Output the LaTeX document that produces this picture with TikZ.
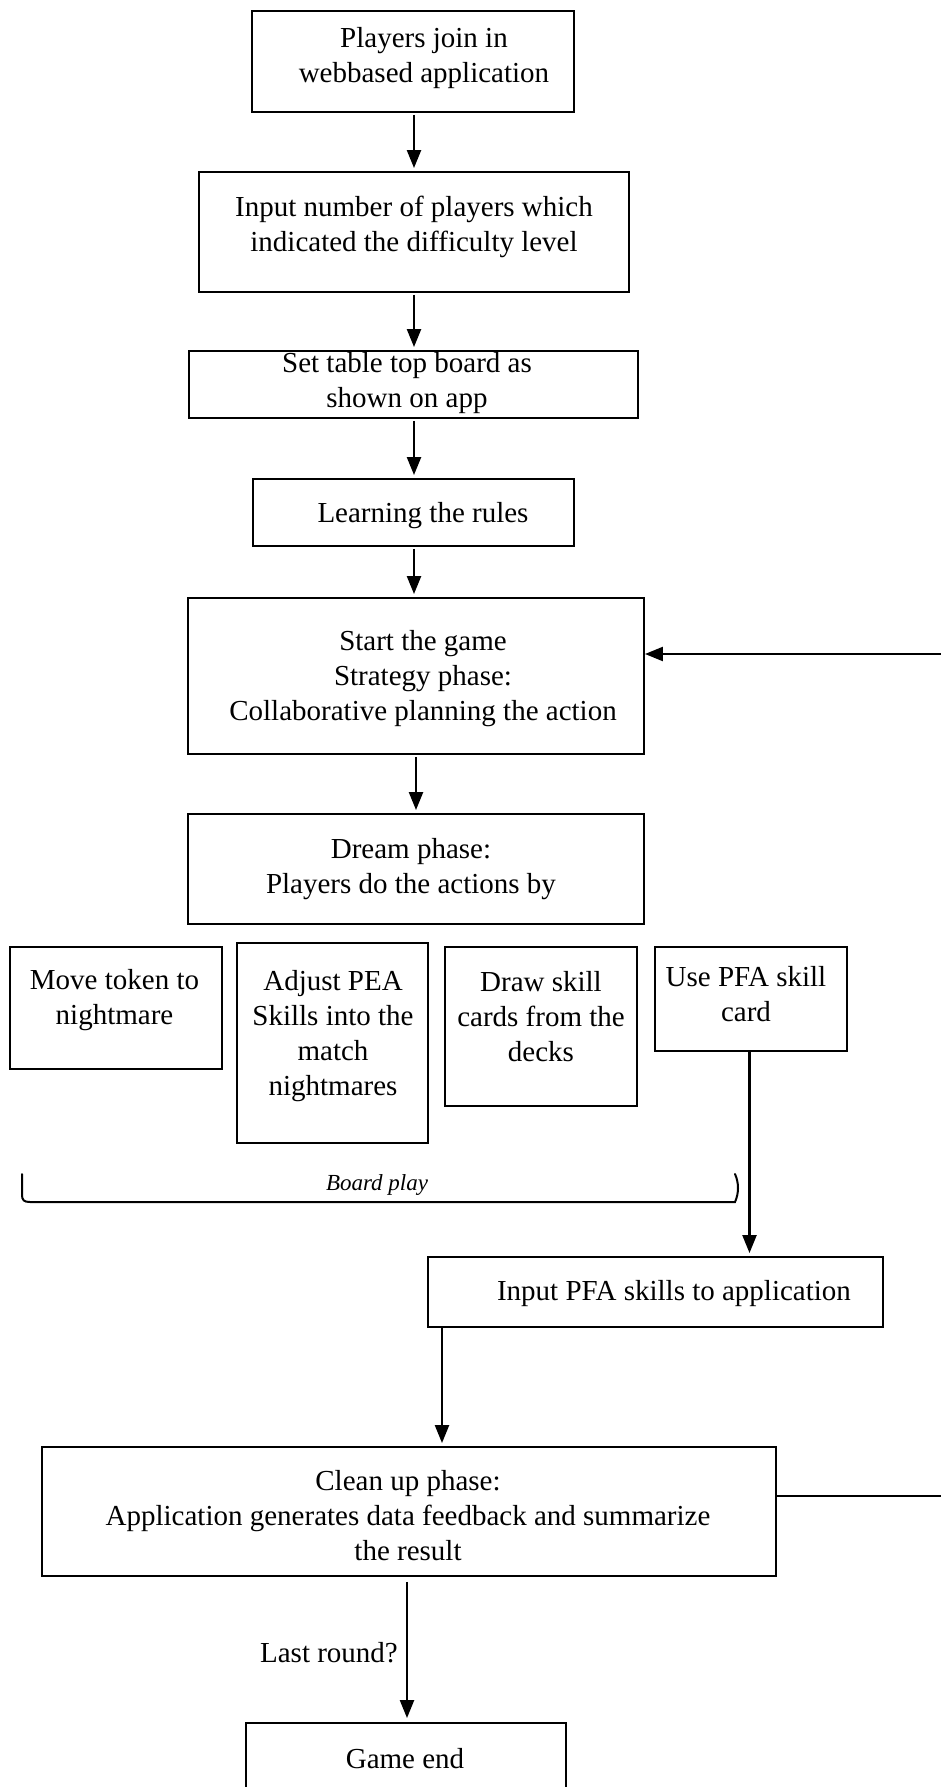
\documentclass[tikz,border=0pt]{standalone}
\usepackage{fontspec}
\setmainfont{Liberation Serif}
\usetikzlibrary{arrows.meta,calc}
\begin{document}
\begin{tikzpicture}[x=1pt,y=-1pt,
  box/.style={draw,line width=1.9pt,rectangle,inner sep=0pt},
  txt/.style={align=center,inner sep=0pt,yshift=-3pt,font=\fontsize{29}{35}\selectfont},
  arr/.style={line width=2.3pt,-{Triangle[length=18pt,width=14pt]}},
  conn/.style={line width=2pt}]
\useasboundingbox (0,0) rectangle (940,1787);
% boxes
\node[box,minimum width=322pt,minimum height=101pt] (b1) at (413,61.5) {};
\node[txt] (t1) at (424,55) {Players join in\\webbased application};
\node[box,minimum width=430pt,minimum height=120pt] (b2) at (414,232) {};
\node[txt] (t2) at (414,224) {Input number of players which\\indicated the difficulty level};
\node[box,minimum width=449pt,minimum height=67pt] (b3) at (413.5,384.5) {};
\node[txt] (t3) at (407,380) {Set table top board as\\shown on app};
\node[box,minimum width=321pt,minimum height=67pt] (b4) at (413.5,512.5) {};
\node[txt] (t4) at (423,513) {Learning the rules};
\node[box,minimum width=456pt,minimum height=156pt] (b5) at (416,676) {};
\node[txt] (t5) at (423,676) {Start the game\\Strategy phase:\\Collaborative planning the action};
\node[box,minimum width=456pt,minimum height=110pt] (b6) at (416,869) {};
\node[txt] (t6) at (411,866) {Dream phase:\\Players do the actions by};
% action boxes
\node[box,minimum width=212pt,minimum height=122pt] (a1) at (116,1008) {};
\node[txt] (ta1) at (114.5,997) {Move token to\\nightmare};
\node[box,minimum width=191pt,minimum height=200pt] (a2) at (332.5,1043) {};
\node[txt] (ta2) at (333,1033) {Adjust PEA\\Skills into the\\match\\nightmares};
\node[box,minimum width=192pt,minimum height=159pt] (a3) at (541,1026.5) {};
\node[txt] (ta3) at (541,1014) {Draw skill\\cards from the\\decks};
\node[box,minimum width=192pt,minimum height=104pt] (a4) at (751,999) {};
\node[txt] (ta4) at (746,991) {Use PFA skill\\card};
% board play bracket
\draw[line width=2pt,line cap=round] (22,1174) -- (22,1195) .. controls (22,1200) and (24,1202) .. (30,1202) -- (735,1202) .. controls (739,1193) and (739,1183) .. (735,1174);
\node[inner sep=0pt,yshift=-2pt,font=\fontsize{23}{27}\selectfont\itshape] (bp) at (377,1183) {Board play};
% lower boxes
\node[box,minimum width=455pt,minimum height=70pt] (pfa) at (655.5,1292) {};
\node[txt] (tpfa) at (674,1291) {Input PFA skills to application};
\node[box,minimum width=734pt,minimum height=129pt] (clean) at (409,1511.5) {};
\node[txt] (tclean) at (408,1513) {Clean up phase:\\Application generates data feedback and summarize\\the result};
\node[box,minimum width=320pt,minimum height=120pt] (end) at (406,1783) {};
\node[txt] (tend) at (405,1756) {Game end};
% coordinates for connectors
\coordinate (xa) at (414,0);
\coordinate (xb) at (416,0);
\coordinate (xc) at (749.5,0);
\coordinate (xd) at (442,0);
\coordinate (xe) at (407,0);
\coordinate (ya) at (0,654);
\coordinate (yb) at (0,1496);
\coordinate (far) at (952,0);
% arrows
\draw[arr,shorten <=2pt,shorten >=3pt] (xa |- b1.south) -- (xa |- b2.north);
\draw[arr,shorten <=2pt,shorten >=3pt] (xa |- b2.south) -- (xa |- b3.north);
\draw[arr,shorten <=2pt,shorten >=3pt] (xa |- b3.south) -- (xa |- b4.north);
\draw[arr,shorten <=2pt,shorten >=3pt] (xa |- b4.south) -- (xa |- b5.north);
\draw[arr,shorten <=2pt,shorten >=3pt] (xb |- b5.south) -- (xb |- b6.north);
\draw[arr,shorten >=3pt] (xc |- a4.south) -- (xc |- pfa.north);
\draw[arr,shorten >=3pt] (xd |- pfa.south) -- (xd |- clean.north);
\draw[arr,shorten <=5pt,shorten >=4pt] (xe |- clean.south) -- node[left,inner sep=8pt,yshift=-3pt,font=\fontsize{29}{35}\selectfont] (lr) {Last round?} (xe |- end.north);
\draw[arr] (clean.east |- yb) -- (far |- yb) -- (far |- ya) -- (b5.east |- ya);
\end{tikzpicture}
\end{document}
